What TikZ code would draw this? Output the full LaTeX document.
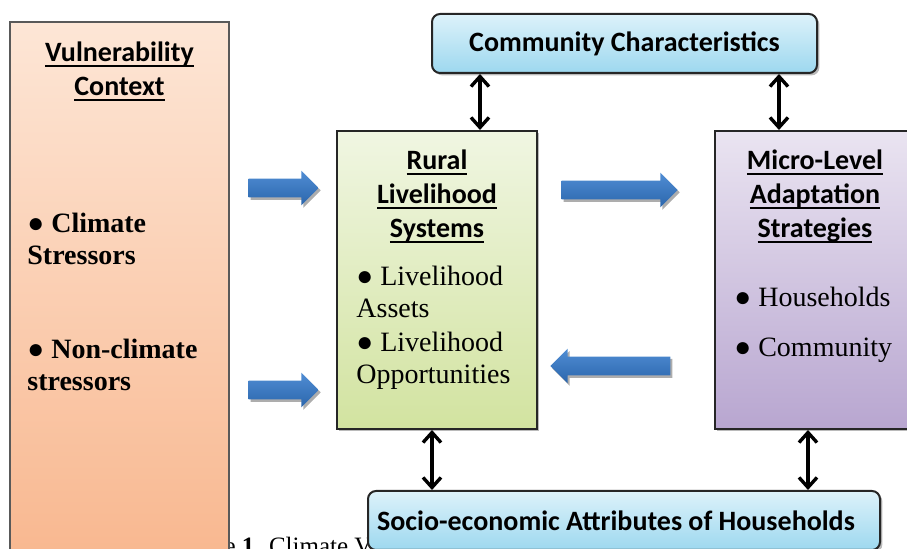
\documentclass[tikz,border=0pt]{standalone}
\usepackage{fontspec}
\setmainfont{Liberation Serif}
\newfontfamily\calibri{Carlito}
\usetikzlibrary{shapes.arrows, arrows.meta, positioning, shadows}

% heading underline, a bit heavier than \underline
\newcommand\uln[1]{\setbox0\hbox{#1}\leavevmode\rlap{\rule[-2.8pt]{\wd0}{1pt}}\box0}

\definecolor{ctxTop}{HTML}{FDE6D6}
\definecolor{ctxBot}{HTML}{F8B48A}
\definecolor{skyTop}{HTML}{DDF2FA}
\definecolor{skyBot}{HTML}{9DD8EF}
\definecolor{limeTop}{HTML}{F0F6E2}
\definecolor{limeBot}{HTML}{D2E3A0}
\definecolor{lilacTop}{HTML}{EAE4F1}
\definecolor{lilacBot}{HTML}{B8A6D0}
\definecolor{flowTop}{HTML}{4F8DD4}
\definecolor{flowBot}{HTML}{2C66AC}

\begin{document}
\begin{tikzpicture}[
    x=0.5pt, y=-0.5pt,
    box/.style={draw=black!85, line width=1pt, inner sep=0pt,
        drop shadow={shadow xshift=1.2pt, shadow yshift=-1.2pt, fill=black!45, opacity=0.6}},
    ctxbox/.style={draw=black!65, line width=1pt, inner sep=0pt, top color=ctxTop, bottom color=ctxBot},
    rurbox/.style={box, top color=limeTop, bottom color=limeBot},
    micbox/.style={box, top color=lilacTop, bottom color=lilacBot},
    skybox/.style={box, rounded corners=4pt, top color=skyTop, bottom color=skyBot,
        font=\calibri\bfseries\fontsize{14}{17}\selectfont},
    ttl/.style={align=center, inner sep=0pt, font=\calibri\bfseries\fontsize{14}{17}\selectfont},
    item/.style={align=left, inner sep=0pt, font=\fontsize{14}{16}\selectfont},
    flow/.style={single arrow, single arrow head extend=4pt, inner xsep=0pt, inner ysep=4.5pt,
        top color=flowTop, bottom color=flowBot, draw=none,
        drop shadow={shadow xshift=1pt, shadow yshift=-1.2pt, fill=black!40, opacity=0.8}},
    link/.style={{Straight Barb[length=5pt,width=9pt]}-{Straight Barb[length=5pt,width=9pt]}, line width=1.7pt}
]
\useasboundingbox (0,0) rectangle (907,549);
\clip (0,0) rectangle (907,549);

% caption of the page, mostly hidden by the boxes
\node[anchor=base west, inner sep=0pt, font=\fontsize{12.5}{15}\selectfont] (cap) at (170,555) {Figure \textbf{1.} Climate Vulnerability};

% main boxes
\node[ctxbox, minimum width=109.5pt, minimum height=289pt] (vuln) at (119.5,311) {};
\node[skybox, minimum width=192.5pt, minimum height=29.5pt] (comm) at (624.5,43.5) {Community Characteristics};
\node[rurbox, minimum width=100pt, minimum height=149pt] (rural) at (437,280) {};
\node[micbox, minimum width=100pt, minimum height=149pt] (micro) at (815,280) {};
\node[skybox, minimum width=256pt, minimum height=29.5pt] (socio) at (624,520.5) {\kern-8pt Socio-economic Attributes of Households};

% box texts
\node[ttl, below=10pt of vuln.north] (vulnttl) {\uln{Vulnerability}\\\uln{Context}};
\node[item, anchor=north west, font=\bfseries\fontsize{14}{16}\selectfont] (clim) at (27,213) {● Climate\\Stressors};
\node[item, anchor=north west, font=\bfseries\fontsize{14}{16}\selectfont] (nonclim) at (27,339) {● Non-climate\\stressors};

\node[ttl, below=9.5pt of rural.north] (ruralttl) {\uln{Rural}\\\uln{Livelihood}\\\uln{Systems}};
\node[item, anchor=north west] (ruralitems) at (356,266) {● Livelihood\\Assets\\[1pt]● Livelihood\\Opportunities};

\node[ttl, below=9.5pt of micro.north] (microttl) {\uln{Micro-Level}\\\uln{Adaptation}\\\uln{Strategies}};
\node[item, anchor=north west] (microitems) at (734,287) {● Households\\[9pt]● Community};

% flow arrows
\node[flow, minimum height=35pt] (in1) at (279,188) {};
\node[flow, minimum height=35pt] (in2) at (279,390) {};
\node[flow, minimum height=58pt] (fwd) at (615,190) {};
\node[flow, minimum height=60pt, shape border rotate=180] (back) at (615,366) {};

% two-way links
\draw[link] ([xshift=21.5pt]rural.north) -- ([xshift=21.5pt]rural.north |- comm.south);
\draw[link] ([xshift=-18pt]micro.north) -- ([xshift=-18pt]micro.north |- comm.south);
\draw[link] ([xshift=-2.5pt]rural.south) -- ([xshift=-2.5pt]rural.south |- socio.north);
\draw[link] ([xshift=-3.5pt]micro.south) -- ([xshift=-3.5pt]micro.south |- socio.north);
\end{tikzpicture}
\end{document}
